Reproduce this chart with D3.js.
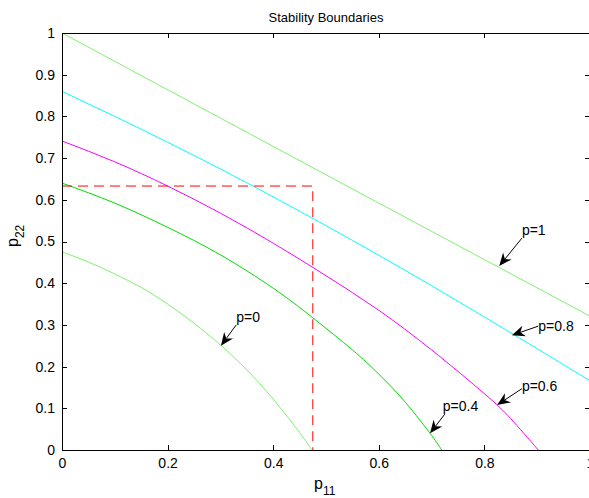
<!DOCTYPE html>
<html>
<head>
<meta charset="utf-8">
<script src="https://cdn.jsdelivr.net/npm/d3@7"></script>
<style>
  body { margin: 0; background: #fff; }
  text { font-family: "Liberation Sans", Arial, Helvetica, sans-serif; }
</style>
</head>
<body>
<div id="chart"></div>
<script>
var widthsvg = 589;
var heightsvg = 498;

// plot box (MATLAB axes), right edge sits just past the window
var box = {left: 62, right: 590, top: 33, bottom: 450};

// tick values / labels
var xTicks = [0, 0.2, 0.4, 0.6, 0.8, 1];
var xTickLabels = ["0", "0.2", "0.4", "0.6", "0.8", "1"];
var yTicks = [0, 0.1, 0.2, 0.3, 0.4, 0.5, 0.6, 0.7, 0.8, 0.9, 1];
var yTickLabels = ["0", "0.1", "0.2", "0.3", "0.4", "0.5", "0.6", "0.7", "0.8", "0.9", "1"];

// boundary curves (p11 -> p22)
var p1X  = [0, 0.5, 1.0];
var p1Y  = [1.0, 0.66, 0.321];
var p08X = [0, 0.1, 0.2, 0.3, 0.4, 0.5, 0.6, 0.7, 0.8, 0.9, 1.0];
var p08Y = [0.860, 0.800, 0.738, 0.674, 0.607, 0.538, 0.467, 0.394, 0.319, 0.243, 0.166];
var p06X = [0, 0.1, 0.2, 0.3, 0.4, 0.5, 0.6, 0.7, 0.8, 0.85, 0.902];
var p06Y = [0.741, 0.691, 0.633, 0.568, 0.496, 0.418, 0.335, 0.240, 0.135, 0.075, 0];
var p04X = [0, 0.1, 0.2, 0.3, 0.4, 0.475, 0.55, 0.6, 0.65, 0.7, 0.719];
var p04Y = [0.640, 0.592, 0.534, 0.468, 0.388, 0.317, 0.240, 0.182, 0.115, 0.035, 0];
var p0X  = [0, 0.05, 0.1, 0.15, 0.2, 0.25, 0.3, 0.35, 0.4, 0.45, 0.473];
var p0Y  = [0.475, 0.451, 0.422, 0.390, 0.350, 0.304, 0.252, 0.192, 0.122, 0.042, 0];

// red dashed operating point guide
var guideX = [0, 0.475, 0.475];
var guideY = [0.633, 0.633, 0];

// arrow annotations: label, tail and tip in data units
var noteLabels = ["p=1", "p=0.8", "p=0.6", "p=0.4", "p=0"];
var noteTail = [[0.871, 0.508], [0.902, 0.297], [0.871, 0.147], [0.725, 0.086], [0.330, 0.300]];
var noteTip  = [[0.828, 0.441], [0.852, 0.275], [0.824, 0.108], [0.697, 0.040], [0.301, 0.250]];

var series = [
  {x: p1X,  y: p1Y,  color: "#80f070"},
  {x: p08X, y: p08Y, color: "#00ffff"},
  {x: p06X, y: p06Y, color: "#ff00ff"},
  {x: p04X, y: p04Y, color: "#00dd00"},
  {x: p0X,  y: p0Y,  color: "#80f070"}
];

// where the label sits relative to the tail (px)
var noteOffset = [[0, -3, "start"], [0, 5, "start"], [0, 2, "start"], [-2, -3, "start"], [0, -3, "start"]];

var svg = d3.select("#chart")
    .append("svg")
    .attr("width", widthsvg)
    .attr("height", heightsvg);

var scalex = d3.scaleLinear().domain([0, 1]).range([box.left, box.right]);
var scaley = d3.scaleLinear().domain([0, 1]).range([box.bottom, box.top]);

var line = d3.line()
    .x(d => scalex(d[0]))
    .y(d => scaley(d[1]))
    .curve(d3.curveNatural);

// curves
series.forEach(function(s) {
    svg.append("path")
        .datum(s.x.map((v, i) => [v, s.y[i]]))
        .attr("d", line)
        .attr("fill", "none")
        .attr("stroke", s.color)
        .attr("stroke-width", 1);
});

// dashed guide
svg.append("path")
    .datum(guideX.map((v, i) => [v, guideY[i]]))
    .attr("d", d3.line().x(d => scalex(d[0])).y(d => scaley(d[1])))
    .attr("fill", "none")
    .attr("stroke", "#ff0000")
    .attr("stroke-width", 1)
    .attr("stroke-dasharray", "10,6");

// axes, ticks pointing inwards on all four sides
var fmtX = (d, i) => xTickLabels[i];
var fmtY = (d, i) => yTickLabels[i];

var gBottom = svg.append("g")
    .attr("transform", `translate(0, ${box.bottom})`)
    .call(d3.axisBottom(scalex).tickValues(xTicks).tickFormat(fmtX)
        .tickSizeInner(-5).tickSizeOuter(0).tickPadding(8));
var gLeft = svg.append("g")
    .attr("transform", `translate(${box.left}, 0)`)
    .call(d3.axisLeft(scaley).tickValues(yTicks).tickFormat(fmtY)
        .tickSizeInner(-5).tickSizeOuter(0).tickPadding(7));
var gTop = svg.append("g")
    .attr("transform", `translate(0, ${box.top})`)
    .call(d3.axisTop(scalex).tickValues(xTicks).tickFormat("")
        .tickSizeInner(-5).tickSizeOuter(0));
var gRight = svg.append("g")
    .attr("transform", `translate(${box.right}, 0)`)
    .call(d3.axisRight(scaley).tickValues(yTicks).tickFormat("")
        .tickSizeInner(-5).tickSizeOuter(0));

[gBottom, gLeft, gTop, gRight].forEach(function(g) {
    g.selectAll("text")
        .attr("fill", "#000")
        .style("font-size", "14px")
        .style("font-family", "'Liberation Sans', Arial, sans-serif");
    g.selectAll("line,path").attr("stroke", "#000").attr("shape-rendering", "crispEdges");
});

// title
svg.append("text")
    .attr("x", (box.left + box.right) / 2)
    .attr("y", 22)
    .attr("text-anchor", "middle")
    .style("font-size", "13px")
    .text("Stability Boundaries");

// x label p_11
var xl = svg.append("text")
    .attr("x", 314)
    .attr("y", 489)
    .style("font-size", "16px");
xl.append("tspan").text("p");
xl.append("tspan").attr("dy", 6).style("font-size", "12px").text("11");

// y label p_22
var yl = svg.append("text")
    .attr("transform", "translate(18, 247) rotate(-90)")
    .style("font-size", "16px");
yl.append("tspan").text("p");
yl.append("tspan").attr("dy", 6).style("font-size", "12px").text("22");

// arrow annotations
noteLabels.forEach(function(lbl, i) {
    var tx = scalex(noteTail[i][0]), ty = scaley(noteTail[i][1]);
    var hx = scalex(noteTip[i][0]), hy = scaley(noteTip[i][1]);
    var ang = Math.atan2(hy - ty, hx - tx);
    var len = 13, half = 5.5, back = 9;
    var ux = Math.cos(ang), uy = Math.sin(ang);
    var bx = hx - ux * len, by = hy - uy * len;
    var nx = -uy, ny = ux;
    var mx = hx - ux * back, my = hy - uy * back;

    svg.append("line")
        .attr("x1", tx).attr("y1", ty)
        .attr("x2", mx).attr("y2", my)
        .attr("stroke", "#000")
        .attr("stroke-width", 1);

    svg.append("path")
        .attr("d", `M${hx},${hy} L${bx + nx * half},${by + ny * half} L${mx},${my} L${bx - nx * half},${by - ny * half} Z`)
        .attr("fill", "#000");

    svg.append("text")
        .attr("x", tx + noteOffset[i][0])
        .attr("y", ty + noteOffset[i][1])
        .attr("text-anchor", noteOffset[i][2])
        .style("font-size", "14px")
        .text(lbl);
});
</script>
</body>
</html>
